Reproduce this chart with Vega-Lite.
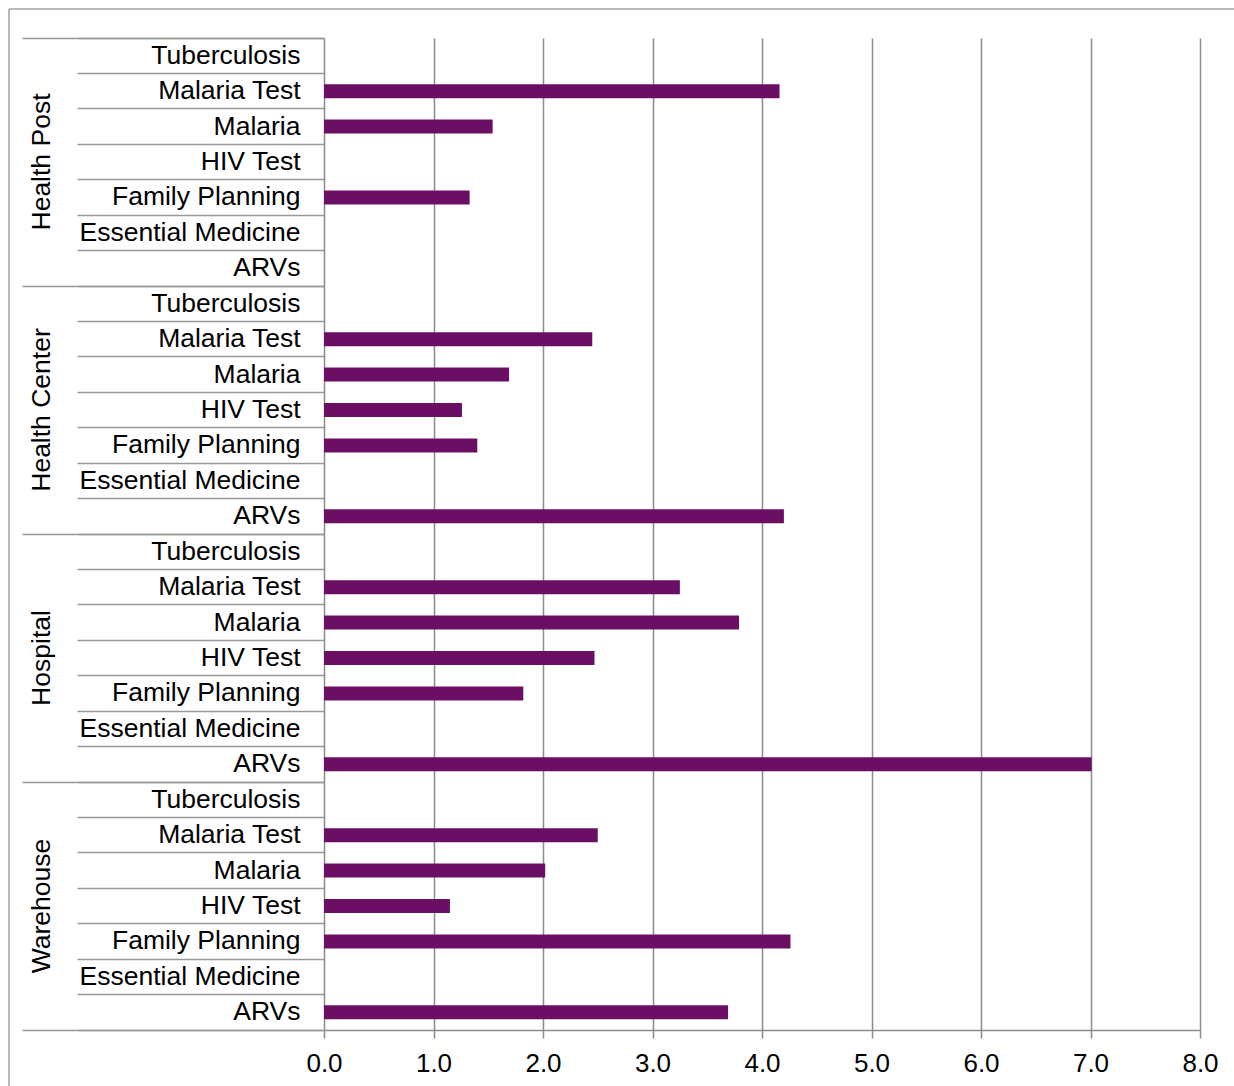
{
  "$schema": "https://vega.github.io/schema/vega-lite/v6.json",
  "width": 1225,
  "height": 1077,
  "autosize": {"type": "none"},
  "padding": {"left": 9, "top": 9, "right": 0, "bottom": 0},
  "background": "white",
  "config": {
    "font": "Liberation Sans",
    "view": {"stroke": "#a3a3a3", "strokeWidth": 1.5, "strokeDash": [1225, 2302, 1077, 0]},
    "axis": {"labelFont": "Liberation Sans", "labelColor": "#000000", "titleFont": "Liberation Sans"}
  },
  "data": {
    "values": [
      {"row": "Health Post|Tuberculosis", "group": "Health Post", "item": "Tuberculosis", "value": null},
      {"row": "Health Post|Malaria Test", "group": "Health Post", "item": "Malaria Test", "value": 4.16},
      {"row": "Health Post|Malaria", "group": "Health Post", "item": "Malaria", "value": 1.54},
      {"row": "Health Post|HIV Test", "group": "Health Post", "item": "HIV Test", "value": null},
      {"row": "Health Post|Family Planning", "group": "Health Post", "item": "Family Planning", "value": 1.33},
      {"row": "Health Post|Essential Medicine", "group": "Health Post", "item": "Essential Medicine", "value": null},
      {"row": "Health Post|ARVs", "group": "Health Post", "item": "ARVs", "value": null},
      {"row": "Health Center|Tuberculosis", "group": "Health Center", "item": "Tuberculosis", "value": null},
      {"row": "Health Center|Malaria Test", "group": "Health Center", "item": "Malaria Test", "value": 2.45},
      {"row": "Health Center|Malaria", "group": "Health Center", "item": "Malaria", "value": 1.69},
      {"row": "Health Center|HIV Test", "group": "Health Center", "item": "HIV Test", "value": 1.26},
      {"row": "Health Center|Family Planning", "group": "Health Center", "item": "Family Planning", "value": 1.40},
      {"row": "Health Center|Essential Medicine", "group": "Health Center", "item": "Essential Medicine", "value": null},
      {"row": "Health Center|ARVs", "group": "Health Center", "item": "ARVs", "value": 4.20},
      {"row": "Hospital|Tuberculosis", "group": "Hospital", "item": "Tuberculosis", "value": null},
      {"row": "Hospital|Malaria Test", "group": "Hospital", "item": "Malaria Test", "value": 3.25},
      {"row": "Hospital|Malaria", "group": "Hospital", "item": "Malaria", "value": 3.79},
      {"row": "Hospital|HIV Test", "group": "Hospital", "item": "HIV Test", "value": 2.47},
      {"row": "Hospital|Family Planning", "group": "Hospital", "item": "Family Planning", "value": 1.82},
      {"row": "Hospital|Essential Medicine", "group": "Hospital", "item": "Essential Medicine", "value": null},
      {"row": "Hospital|ARVs", "group": "Hospital", "item": "ARVs", "value": 7.01},
      {"row": "Warehouse|Tuberculosis", "group": "Warehouse", "item": "Tuberculosis", "value": null},
      {"row": "Warehouse|Malaria Test", "group": "Warehouse", "item": "Malaria Test", "value": 2.50},
      {"row": "Warehouse|Malaria", "group": "Warehouse", "item": "Malaria", "value": 2.02},
      {"row": "Warehouse|HIV Test", "group": "Warehouse", "item": "HIV Test", "value": 1.15},
      {"row": "Warehouse|Family Planning", "group": "Warehouse", "item": "Family Planning", "value": 4.26},
      {"row": "Warehouse|Essential Medicine", "group": "Warehouse", "item": "Essential Medicine", "value": null},
      {"row": "Warehouse|ARVs", "group": "Warehouse", "item": "ARVs", "value": 3.69}
    ]
  },
  "layer": [
    {
      "description": "Vertical gridlines, drawn as inward axis ticks so they stop at the plot edges",
      "mark": {"type": "rule", "opacity": 0},
      "encoding": {
        "x": {
          "field": "value",
          "type": "quantitative",
          "scale": {"domain": [0, 8], "range": [315, 1191], "nice": false, "zero": true},
          "axis": {
            "orient": "bottom",
            "offset": -56,
            "values": [1, 2, 3, 4, 5, 6, 7, 8],
            "tickSize": -992,
            "tickColor": "#8c8c8c",
            "tickWidth": 1.5,
            "labels": false,
            "domain": false,
            "grid": false,
            "title": null
          }
        }
      }
    },
    {
      "mark": {"type": "bar", "color": "#6b0f64", "size": 14},
      "encoding": {
        "y": {
          "field": "row",
          "type": "nominal",
          "scale": {
            "domain": [
              "Health Post|Tuberculosis", "Health Post|Malaria Test", "Health Post|Malaria", "Health Post|HIV Test",
              "Health Post|Family Planning", "Health Post|Essential Medicine", "Health Post|ARVs",
              "Health Center|Tuberculosis", "Health Center|Malaria Test", "Health Center|Malaria", "Health Center|HIV Test",
              "Health Center|Family Planning", "Health Center|Essential Medicine", "Health Center|ARVs",
              "Hospital|Tuberculosis", "Hospital|Malaria Test", "Hospital|Malaria", "Hospital|HIV Test",
              "Hospital|Family Planning", "Hospital|Essential Medicine", "Hospital|ARVs",
              "Warehouse|Tuberculosis", "Warehouse|Malaria Test", "Warehouse|Malaria", "Warehouse|HIV Test",
              "Warehouse|Family Planning", "Warehouse|Essential Medicine", "Warehouse|ARVs"
            ],
            "range": [29, 1021],
            "paddingInner": 0,
            "paddingOuter": 0
          },
          "axis": {
            "orient": "left",
            "offset": -315,
            "bandPosition": 1,
            "tickExtra": true,
            "tickSize": 247,
            "tickColor": "#999999",
            "tickWidth": 1.5,
            "domainColor": "#8c8c8c",
            "domainWidth": 1.5,
            "labelExpr": "split(datum.label, '|')[1]",
            "labelPadding": -223,
            "labelFontSize": 26.5,
            "labelAlign": "right",
            "labelBaseline": "middle",
            "labelLimit": 400,
            "labelOverlap": false,
            "grid": false,
            "title": null
          }
        },
        "x": {
          "field": "value",
          "type": "quantitative",
          "scale": {"domain": [0, 8], "range": [315, 1191], "nice": false, "zero": true},
          "axis": {
            "orient": "bottom",
            "offset": -56,
            "values": [0, 1, 2, 3, 4, 5, 6, 7, 8],
            "format": ".1f",
            "tickSize": 8,
            "tickColor": "#8c8c8c",
            "tickWidth": 1.5,
            "domainColor": "#8c8c8c",
            "domainWidth": 1.5,
            "labelFontSize": 26,
            "labelPadding": 12,
            "labelFlush": false,
            "labelOverlap": false,
            "grid": false,
            "title": null
          }
        }
      }
    },
    {
      "description": "Outer category level: facility type",
      "mark": {"type": "rule", "opacity": 0},
      "encoding": {
        "y": {
          "field": "group",
          "type": "nominal",
          "sort": null,
          "scale": {"range": [29, 1021], "paddingInner": 0, "paddingOuter": 0},
          "axis": {
            "orient": "left",
            "offset": -315,
            "bandPosition": 1,
            "tickExtra": true,
            "tickSize": 302,
            "tickColor": "#999999",
            "tickWidth": 1.5,
            "domain": false,
            "labelAngle": 270,
            "labelAlign": "center",
            "labelBaseline": "middle",
            "labelPadding": -19,
            "labelFontSize": 26.5,
            "labelLimit": 400,
            "labelOverlap": false,
            "grid": false,
            "title": null
          }
        }
      }
    }
  ],
  "resolve": {
    "scale": {"y": "independent"},
    "axis": {"x": "independent", "y": "independent"}
  }
}
